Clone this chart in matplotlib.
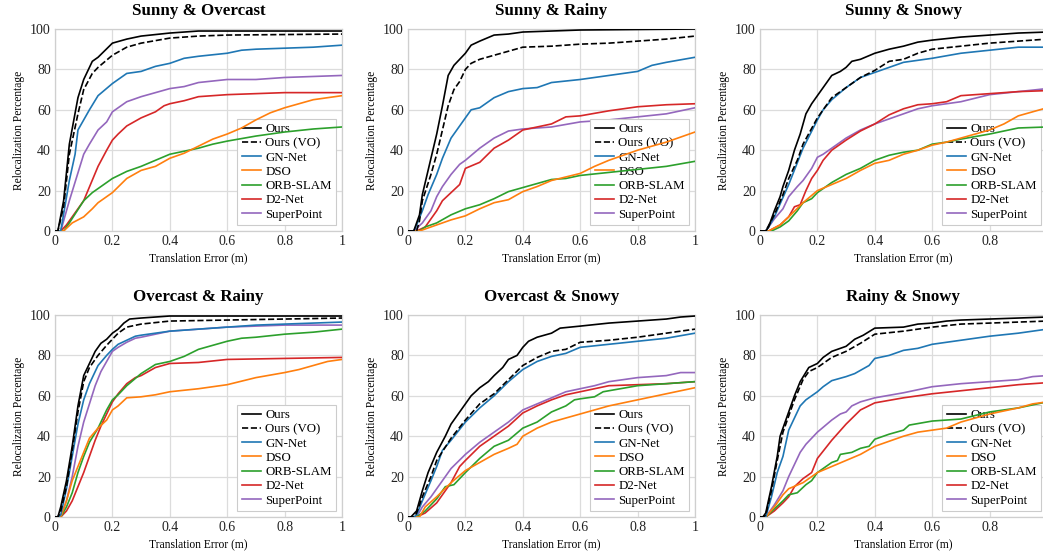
import numpy as np
import matplotlib
matplotlib.use("Agg")
import matplotlib.pyplot as plt

plt.rcParams['font.family'] = ['Liberation Serif', 'DejaVu Serif']

# series names and colours
methods = ["Ours", "Ours (VO)", "GN-Net", "DSO", "ORB-SLAM", "D2-Net", "SuperPoint"]
colors = ["black", "black", "#1f77b4", "#ff7f0e", "#2ca02c", "#d62728", "#9467bd"]
styles = ["-", "--", "-", "-", "-", "-", "-"]
titles = ["Sunny & Overcast", "Sunny & Rainy", "Sunny & Snowy",
          "Overcast & Rainy", "Overcast & Snowy", "Rainy & Snowy"]

# (translation error m, relocalization %)
# Sunny & Overcast
so_ours = [(0.01, 0), (0.03, 15), (0.05, 43), (0.08, 66), (0.1, 75), (0.13, 84), (0.15, 86), (0.2, 93),
           (0.25, 95), (0.3, 96.5), (0.4, 98), (0.5, 99), (1.0, 99)]
so_vo = [(0.01, 0), (0.03, 12), (0.05, 38), (0.08, 58), (0.1, 70), (0.13, 78), (0.15, 81), (0.2, 87),
         (0.25, 91), (0.3, 93), (0.4, 95.5), (0.5, 96.5), (0.6, 97), (1.0, 97.5)]
so_gn = [(0.02, 0), (0.05, 25), (0.07, 38), (0.08, 50), (0.1, 55), (0.12, 60), (0.15, 67), (0.2, 73),
         (0.25, 78), (0.3, 79), (0.35, 81.5), (0.4, 83), (0.45, 85.5), (0.5, 86.5), (0.6, 88), (0.65, 89.5),
         (0.7, 90), (0.8, 90.5), (0.9, 91), (1.0, 92)]
so_dso = [(0.03, 0), (0.06, 4), (0.1, 7), (0.13, 11), (0.15, 14), (0.2, 19), (0.25, 26), (0.3, 30),
          (0.35, 32), (0.4, 36), (0.45, 38.5), (0.5, 42), (0.55, 45.5), (0.6, 48), (0.65, 51), (0.7, 55),
          (0.75, 58.5), (0.8, 61), (0.85, 63), (0.9, 65), (0.95, 66), (1.0, 67)]
so_orb = [(0.03, 0), (0.05, 4), (0.1, 15), (0.13, 19), (0.15, 21), (0.2, 26), (0.25, 29.5), (0.3, 32),
          (0.35, 35), (0.4, 38), (0.45, 39.5), (0.5, 41), (0.55, 43), (0.6, 44.5), (0.7, 47), (0.8, 49),
          (0.9, 50.5), (1.0, 51.5)]
so_d2 = [(0.02, 0), (0.04, 3), (0.1, 15), (0.15, 32), (0.18, 40), (0.2, 45), (0.22, 48), (0.25, 52),
         (0.3, 56), (0.35, 59), (0.38, 62), (0.4, 63), (0.45, 64.5), (0.5, 66.5), (0.6, 67.5), (0.7, 68),
         (0.8, 68.5), (1.0, 68.5)]
so_sp = [(0.02, 0), (0.05, 15), (0.1, 38), (0.12, 43), (0.15, 50), (0.18, 54), (0.2, 59), (0.25, 64),
         (0.3, 66.5), (0.35, 68.5), (0.4, 70.5), (0.45, 71.5), (0.5, 73.5), (0.6, 75), (0.7, 75),
         (0.8, 76), (0.9, 76.5), (1.0, 77)]

# Sunny & Rainy
sr_ours = [(0.02, 0), (0.04, 8), (0.05, 18), (0.07, 30), (0.1, 48), (0.12, 62), (0.14, 77), (0.16, 82),
           (0.18, 85), (0.2, 88), (0.22, 92), (0.25, 94), (0.3, 97), (0.35, 97.5), (0.4, 98.5), (0.5, 99),
           (0.6, 99.5), (1.0, 100)]
sr_vo = [(0.03, 0), (0.04, 5), (0.05, 15), (0.08, 28), (0.1, 38), (0.12, 50), (0.14, 62), (0.16, 70),
         (0.18, 74), (0.2, 80), (0.22, 83), (0.25, 85), (0.3, 87), (0.35, 89), (0.4, 91), (0.5, 91.5),
         (0.6, 92.5), (0.7, 93), (0.8, 94), (0.9, 95), (1.0, 96.5)]
sr_gn = [(0.02, 0), (0.03, 3), (0.05, 10), (0.07, 18), (0.1, 28), (0.12, 36), (0.15, 46), (0.18, 52),
         (0.2, 56), (0.22, 60), (0.25, 61), (0.28, 64), (0.3, 66), (0.35, 69), (0.4, 70.5), (0.45, 71),
         (0.5, 73.5), (0.6, 75), (0.7, 77), (0.75, 78), (0.8, 79), (0.85, 82), (0.9, 83.5), (1.0, 86)]
sr_dso = [(0.04, 0), (0.1, 3), (0.15, 5.5), (0.2, 7.5), (0.25, 11), (0.3, 14), (0.35, 15.5), (0.4, 19.5),
          (0.45, 22), (0.5, 25), (0.6, 28.5), (0.65, 32), (0.7, 35), (0.8, 40), (0.9, 44), (0.95, 46.5),
          (1.0, 49)]
sr_orb = [(0.04, 0), (0.06, 2), (0.1, 4), (0.15, 8), (0.2, 11), (0.25, 13), (0.3, 16), (0.35, 19.5),
          (0.4, 21.5), (0.45, 23.5), (0.5, 25.5), (0.55, 26), (0.6, 27.5), (0.7, 29), (0.8, 30.5),
          (0.9, 32), (1.0, 34.5)]
sr_d2 = [(0.03, 0), (0.06, 2), (0.08, 6), (0.1, 10), (0.12, 15), (0.15, 19), (0.18, 23), (0.2, 31),
         (0.25, 34), (0.3, 41), (0.35, 45), (0.4, 50), (0.45, 51.5), (0.5, 53), (0.55, 56.5), (0.6, 57),
         (0.7, 59.5), (0.8, 61.5), (0.9, 62.5), (1.0, 63)]
sr_sp = [(0.02, 0), (0.05, 4), (0.08, 10), (0.1, 17), (0.12, 22), (0.15, 28), (0.18, 33), (0.2, 35),
         (0.25, 41), (0.3, 46), (0.35, 49.5), (0.4, 50.5), (0.5, 51.5), (0.6, 54), (0.7, 55), (0.8, 56.5),
         (0.9, 58), (1.0, 61)]

# Sunny & Snowy
ss_ours = [(0.02, 0), (0.03, 2), (0.05, 10), (0.07, 17), (0.08, 22), (0.1, 30), (0.12, 40), (0.14, 48),
           (0.16, 58), (0.18, 63), (0.2, 67), (0.22, 71), (0.25, 77), (0.28, 79), (0.3, 81), (0.32, 84),
           (0.35, 85), (0.4, 88), (0.45, 90), (0.5, 91.5), (0.55, 93.5), (0.6, 94.5), (0.7, 96), (0.8, 97),
           (0.9, 98), (1.0, 98.5)]
ss_vo = [(0.02, 0), (0.05, 8), (0.08, 18), (0.1, 26), (0.13, 35), (0.15, 43), (0.2, 56), (0.25, 66),
         (0.3, 71), (0.35, 76), (0.4, 79.5), (0.45, 84), (0.5, 85), (0.55, 88), (0.6, 90), (0.7, 91.5),
         (0.8, 93), (0.9, 94), (1.0, 95)]
ss_gn = [(0.02, 0), (0.03, 2), (0.05, 7), (0.1, 23), (0.15, 41), (0.2, 55), (0.22, 60), (0.25, 65),
         (0.3, 71), (0.35, 76), (0.4, 78.5), (0.45, 81), (0.5, 83.5), (0.6, 85.5), (0.7, 88), (0.8, 89.5),
         (0.9, 91), (1.0, 91)]
ss_dso = [(0.03, 0), (0.07, 3), (0.1, 7), (0.15, 14), (0.2, 20), (0.25, 23), (0.3, 26), (0.35, 30),
          (0.4, 33.5), (0.45, 35), (0.5, 38), (0.55, 40), (0.6, 42.5), (0.65, 44), (0.7, 46), (0.8, 50),
          (0.85, 53), (0.9, 57), (0.95, 59), (1.0, 61)]
ss_orb = [(0.04, 0), (0.07, 2), (0.1, 5), (0.13, 10), (0.15, 14), (0.18, 16), (0.2, 19), (0.25, 24),
          (0.3, 28), (0.35, 31), (0.4, 35), (0.45, 37.5), (0.5, 39), (0.55, 40), (0.6, 43), (0.65, 44),
          (0.7, 45.5), (0.8, 48), (0.9, 51), (1.0, 51.5)]
ss_d2 = [(0.03, 0), (0.07, 3), (0.1, 7), (0.12, 12), (0.14, 13), (0.16, 20), (0.18, 26), (0.2, 30),
         (0.22, 35), (0.25, 40), (0.3, 45), (0.35, 49.5), (0.4, 53), (0.45, 57.5), (0.5, 60.5),
         (0.55, 62.5), (0.6, 63), (0.65, 64), (0.7, 67), (0.8, 68), (0.9, 69), (1.0, 69.5)]
ss_sp = [(0.02, 0), (0.05, 6), (0.08, 11), (0.1, 17), (0.13, 22), (0.15, 25), (0.18, 31), (0.2, 36.5),
         (0.22, 38), (0.25, 41), (0.3, 46), (0.35, 50), (0.4, 53), (0.45, 55.5), (0.5, 58), (0.55, 60.5),
         (0.6, 62), (0.7, 64), (0.8, 67.5), (0.9, 69), (1.0, 70.5)]

# Overcast & Rainy
or_ours = [(0.01, 0), (0.02, 5), (0.04, 18), (0.06, 35), (0.08, 55), (0.1, 70), (0.12, 76), (0.14, 82),
           (0.16, 86), (0.18, 88), (0.2, 91), (0.22, 93), (0.24, 96), (0.26, 98), (0.3, 98.5), (0.4, 99.5),
           (1.0, 99.5)]
or_vo = [(0.01, 0), (0.02, 3), (0.04, 15), (0.06, 33), (0.08, 52), (0.1, 67), (0.12, 74), (0.15, 80),
         (0.18, 85), (0.2, 88), (0.22, 91), (0.25, 94), (0.3, 95.5), (0.4, 97), (0.6, 97.5), (1.0, 98.5)]
or_gn = [(0.01, 0), (0.02, 1), (0.04, 14), (0.06, 30), (0.08, 46), (0.1, 58), (0.12, 66), (0.15, 75),
         (0.18, 80), (0.2, 83), (0.22, 85.5), (0.25, 87.5), (0.28, 89.5), (0.3, 90), (0.35, 91), (0.4, 92),
         (0.5, 93), (0.6, 94), (0.7, 95), (0.8, 95.5), (1.0, 96.5)]
or_dso = [(0.02, 0), (0.04, 8), (0.06, 18), (0.08, 25), (0.1, 32), (0.12, 39), (0.15, 44), (0.18, 48),
          (0.2, 53), (0.22, 55), (0.25, 59), (0.3, 59.5), (0.35, 60.5), (0.4, 62), (0.5, 63.5), (0.6, 65.5),
          (0.7, 69), (0.8, 71.5), (0.85, 73), (0.9, 75), (0.95, 77), (1.0, 78)]
or_orb = [(0.02, 0), (0.04, 5), (0.06, 12), (0.08, 22), (0.1, 30), (0.12, 37), (0.15, 44), (0.18, 53),
          (0.2, 58), (0.22, 60.5), (0.25, 65), (0.3, 71), (0.35, 75.5), (0.4, 77), (0.45, 79.5), (0.5, 83),
          (0.55, 85), (0.6, 87), (0.65, 88.5), (0.7, 89), (0.8, 90.5), (0.9, 91.5), (1.0, 93)]
or_d2 = [(0.02, 0), (0.04, 3), (0.06, 8), (0.08, 15), (0.1, 22), (0.12, 30), (0.14, 38), (0.16, 45),
         (0.18, 51), (0.2, 57), (0.22, 61), (0.25, 66), (0.28, 69), (0.3, 70), (0.35, 74), (0.4, 76),
         (0.5, 76.5), (0.6, 78), (0.8, 78.5), (1.0, 79)]
or_sp = [(0.02, 0), (0.04, 8), (0.06, 20), (0.08, 35), (0.1, 47), (0.12, 56), (0.14, 65), (0.16, 72),
         (0.18, 77), (0.2, 82), (0.22, 84), (0.25, 86.5), (0.28, 88.5), (0.3, 89), (0.35, 90.5), (0.4, 92),
         (0.5, 93), (0.6, 94), (0.7, 94.5), (0.8, 95), (1.0, 95)]

# Overcast & Snowy
os_ours = [(0.01, 0), (0.03, 3), (0.05, 13), (0.07, 22), (0.1, 32), (0.13, 40), (0.15, 46), (0.18, 52),
           (0.2, 56), (0.22, 60), (0.25, 64), (0.28, 67), (0.3, 70), (0.33, 74), (0.35, 78), (0.38, 80),
           (0.4, 84), (0.42, 87), (0.45, 89), (0.5, 91), (0.53, 93.5), (0.6, 94.5), (0.7, 96), (0.8, 97),
           (0.9, 98), (0.95, 99), (1.0, 99.5)]
os_vo = [(0.02, 0), (0.03, 2), (0.05, 10), (0.08, 20), (0.1, 28), (0.15, 39), (0.2, 48), (0.25, 56),
         (0.3, 61), (0.35, 68), (0.4, 75), (0.45, 79), (0.5, 82), (0.55, 83), (0.6, 86.5), (0.7, 87.5),
         (0.8, 89), (0.9, 91), (1.0, 93)]
os_gn = [(0.02, 0), (0.03, 1), (0.05, 8), (0.08, 18), (0.1, 25), (0.12, 33), (0.15, 38), (0.2, 47),
         (0.25, 54), (0.3, 60), (0.35, 67), (0.4, 73), (0.45, 77), (0.5, 79.5), (0.55, 81), (0.6, 84),
         (0.7, 85.5), (0.8, 87), (0.9, 88.5), (1.0, 91)]
os_dso = [(0.04, 0), (0.06, 5), (0.1, 10), (0.15, 17), (0.2, 23), (0.25, 27), (0.3, 31), (0.35, 34),
          (0.38, 36), (0.4, 40), (0.45, 44), (0.5, 47), (0.55, 49), (0.6, 51), (0.7, 55), (0.8, 58),
          (0.9, 61), (1.0, 64)]
os_orb = [(0.03, 0), (0.06, 3), (0.1, 9), (0.13, 15), (0.16, 16), (0.2, 22), (0.25, 29), (0.3, 35),
          (0.35, 38), (0.4, 44), (0.45, 47), (0.5, 52), (0.55, 55), (0.58, 58), (0.6, 58.5), (0.65, 59.5),
          (0.68, 62), (0.7, 62.5), (0.8, 65), (0.9, 66), (1.0, 67)]
os_d2 = [(0.03, 0), (0.06, 2), (0.1, 7), (0.15, 17), (0.18, 25), (0.2, 28), (0.25, 35), (0.3, 40),
         (0.35, 45), (0.4, 51.5), (0.45, 55), (0.5, 58), (0.55, 60.5), (0.6, 62), (0.7, 65), (0.8, 65.5),
         (0.9, 66), (1.0, 67)]
os_sp = [(0.03, 0), (0.05, 5), (0.08, 10), (0.1, 14), (0.15, 24), (0.2, 31), (0.25, 37), (0.3, 42),
         (0.35, 47), (0.4, 53), (0.45, 56), (0.5, 59), (0.55, 62), (0.6, 63.5), (0.65, 65), (0.7, 67),
         (0.8, 69), (0.9, 70), (0.95, 71.5), (1.0, 71.5)]

# Rainy & Snowy
rs_ours = [(0.01, 0), (0.02, 2), (0.04, 15), (0.06, 30), (0.07, 40), (0.1, 52), (0.12, 60), (0.14, 67),
           (0.17, 74), (0.2, 76), (0.22, 79), (0.25, 82), (0.3, 84.5), (0.33, 88), (0.36, 90), (0.4, 93.5),
           (0.5, 94), (0.55, 95.5), (0.6, 96), (0.65, 97), (0.7, 97.5), (0.8, 98), (0.9, 98.5), (1.0, 99)]
rs_vo = [(0.01, 0), (0.02, 1), (0.04, 13), (0.06, 28), (0.08, 42), (0.1, 50), (0.12, 58), (0.15, 68),
         (0.17, 72), (0.2, 74), (0.25, 79), (0.3, 82), (0.35, 86), (0.4, 90.5), (0.5, 92), (0.6, 94),
         (0.7, 95.5), (0.8, 96), (0.9, 96.5), (1.0, 97)]
rs_gn = [(0.02, 0), (0.04, 10), (0.06, 22), (0.08, 30), (0.1, 43), (0.12, 49), (0.14, 55), (0.16, 58),
         (0.2, 62), (0.22, 64.5), (0.25, 67.5), (0.3, 69.5), (0.33, 71), (0.38, 75), (0.4, 78.5), (0.45, 80),
         (0.5, 82.5), (0.55, 83.5), (0.6, 85.5), (0.7, 87.5), (0.8, 89.5), (0.9, 91), (1.0, 93)]
rs_dso = [(0.02, 0), (0.05, 5), (0.08, 11), (0.1, 14), (0.15, 17), (0.2, 22), (0.25, 25), (0.3, 28),
          (0.35, 31), (0.4, 35), (0.45, 37.5), (0.5, 40), (0.55, 42), (0.6, 43), (0.65, 44), (0.7, 47),
          (0.8, 51), (0.9, 54), (0.95, 56), (1.0, 57)]
rs_orb = [(0.02, 0), (0.05, 4), (0.08, 8), (0.1, 11), (0.13, 12), (0.16, 16), (0.18, 18), (0.2, 22),
          (0.25, 27), (0.27, 28), (0.28, 31), (0.32, 32), (0.35, 34), (0.38, 35), (0.4, 38.5), (0.45, 41),
          (0.5, 43), (0.52, 45.5), (0.6, 47.5), (0.7, 48.5), (0.8, 52), (0.9, 54), (1.0, 57)]
rs_d2 = [(0.02, 0), (0.05, 3), (0.08, 7), (0.1, 10), (0.12, 15), (0.15, 19), (0.18, 22), (0.2, 29),
         (0.25, 38), (0.3, 46), (0.35, 53), (0.4, 56.5), (0.5, 59), (0.6, 61), (0.7, 62.5), (0.8, 64),
         (0.9, 65.5), (1.0, 66.5)]
rs_sp = [(0.02, 0), (0.05, 6), (0.08, 13), (0.1, 20), (0.12, 26), (0.14, 32), (0.16, 36), (0.2, 42),
         (0.25, 48), (0.28, 51), (0.3, 52), (0.32, 55), (0.35, 57), (0.4, 59), (0.5, 61.5), (0.6, 64.5),
         (0.7, 66), (0.8, 67), (0.9, 68), (0.95, 69.5), (1.0, 70)]

panels = [
    [so_ours, so_vo, so_gn, so_dso, so_orb, so_d2, so_sp],
    [sr_ours, sr_vo, sr_gn, sr_dso, sr_orb, sr_d2, sr_sp],
    [ss_ours, ss_vo, ss_gn, ss_dso, ss_orb, ss_d2, ss_sp],
    [or_ours, or_vo, or_gn, or_dso, or_orb, or_d2, or_sp],
    [os_ours, os_vo, os_gn, os_dso, os_orb, os_d2, os_sp],
    [rs_ours, rs_vo, rs_gn, rs_dso, rs_orb, rs_d2, rs_sp],
]

W, H = 1043, 554
fig = plt.figure(figsize=(W / 100, H / 100), dpi=100)

# axes boxes in pixels; the right column runs past the figure edge as in the original
lefts = [55, 408, 760]
width = 287
tops = [29, 315]
height = 202

for i, (title, series) in enumerate(zip(titles, panels)):
    r, c = divmod(i, 3)
    ax = fig.add_axes([lefts[c] / W, 1 - (tops[r] + height) / H, width / W, height / H])
    # draw back to front so "Ours" ends on top
    for k in range(len(methods) - 1, -1, -1):
        pts = np.array(series[k])
        x = np.concatenate([[0.0], pts[:, 0]])
        y = np.concatenate([[0.0], pts[:, 1]])
        ax.plot(x, y, color=colors[k], linestyle=styles[k], linewidth=1.2,
                label=methods[k], zorder=3 + (7 - k))
    ax.set_xlim(0, 1)
    ax.set_ylim(0, 100)
    ax.set_xticks([0, 0.2, 0.4, 0.6, 0.8, 1.0])
    xlabels = ["0", "0.2", "0.4", "0.6", "0.8", "1"]
    if c == 2:
        xlabels[-1] = ""  # falls outside the picture
    ax.set_xticklabels(xlabels)
    ax.set_yticks([0, 20, 40, 60, 80, 100])
    ax.grid(True, color="#dcdcdc", linewidth=0.9)
    ax.set_axisbelow(True)
    for s in ax.spines.values():
        s.set_color("#cfcfcf")
        s.set_linewidth(0.9)
    ax.tick_params(length=0, pad=3, labelsize=10, colors="#222222")
    ax.set_title(title, fontsize=12.2, fontweight="bold", pad=10)
    ax.set_xlabel("Translation Error (m)", fontsize=8.3, labelpad=3)
    ax.set_ylabel("Relocalization Percentage", fontsize=8.3, labelpad=4)
    h, l = ax.get_legend_handles_labels()
    leg = ax.legend(h[::-1], l[::-1], loc="lower right", fontsize=9.3, frameon=True,
                    fancybox=False, edgecolor="#cccccc", framealpha=1.0,
                    handlelength=1.5, labelspacing=0.17, borderpad=0.35, handletextpad=0.3,
                    borderaxespad=0.45)
    leg.get_frame().set_linewidth(0.8)

fig.savefig("out.png", dpi=100)
